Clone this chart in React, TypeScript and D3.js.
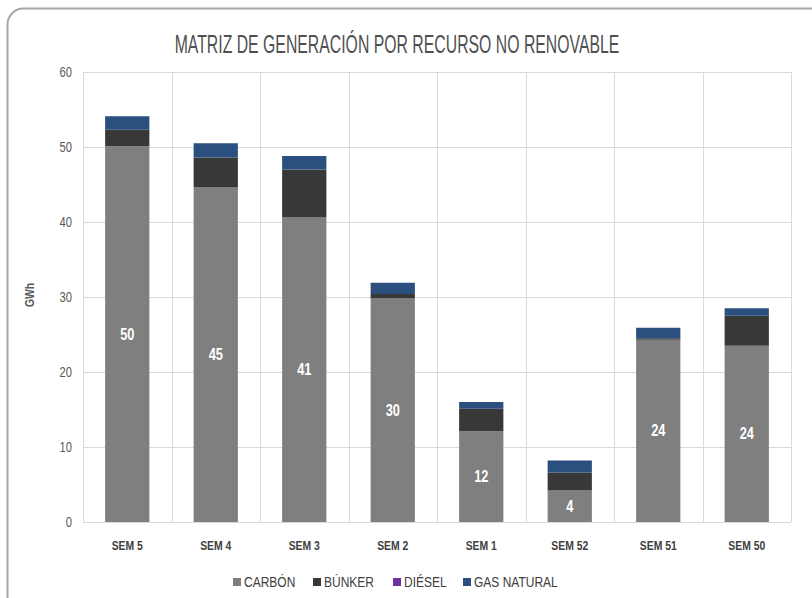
import React from 'react';
import * as d3 from 'd3';

const weeks = ['SEM 5', 'SEM 4', 'SEM 3', 'SEM 2', 'SEM 1', 'SEM 52', 'SEM 51', 'SEM 50'];
const carbon = [50.1, 44.6, 40.6, 29.8, 12.1, 4.2, 24.3, 23.5];
const bunker = [2.2, 4.0, 6.4, 0.6, 3.0, 2.4, 0.2, 4.0];
const diesel = [0, 0, 0, 0, 0, 0, 0, 0];
const gasNatural = [1.8, 1.9, 1.8, 1.5, 0.9, 1.6, 1.4, 1.0];
const seriesNames = ['CARBÓN', 'BÚNKER', 'DIÉSEL', 'GAS NATURAL'];
const seriesColors = ['#7f7f7f', '#383838', '#7030a0', '#2b4f7e'];
const yTicks = [0, 10, 20, 30, 40, 50, 60];

const W = 812;
const H = 598;
const FONT = "'Liberation Sans', Arial, sans-serif";
const NARROW = 0.8; // fake the condensed face

const App: React.FC = () => {
  const svgRef = React.useRef<SVGSVGElement>(null);

  React.useEffect(() => {
    if (!svgRef.current) return;
    const svg = d3.select(svgRef.current);
    svg.selectAll('*').remove();

    const left = 83, right = 791, top = 72, bottom = 522;

    // frame
    svg.append('rect')
      .attr('x', 7.5).attr('y', 8.5)
      .attr('width', 840).attr('height', 620)
      .attr('rx', 16)
      .attr('fill', '#fff')
      .attr('stroke', '#a6a6a6')
      .attr('stroke-width', 2);

    const rows = weeks.map((w, i) => ({
      week: w,
      carbon: carbon[i],
      bunker: bunker[i],
      diesel: diesel[i],
      gas: gasNatural[i],
    }));
    const keys = ['carbon', 'bunker', 'diesel', 'gas'];

    const x = d3.scaleBand<string>().domain(weeks).range([left, right])
      .paddingInner(0.5).paddingOuter(0.25);
    const xGrid = d3.scaleBand<string>().domain(weeks).range([left, right]).padding(0);
    const y = d3.scaleLinear().domain([0, 60]).range([bottom, top]);

    // gridlines
    const grid = svg.append('g').attr('stroke', '#d9d9d9').attr('stroke-width', 1);
    yTicks.forEach(t => {
      grid.append('line')
        .attr('x1', left).attr('x2', right)
        .attr('y1', Math.round(y(t)) + 0.5).attr('y2', Math.round(y(t)) + 0.5);
    });
    [...weeks.map(w => xGrid(w) as number), right].forEach(v => {
      grid.append('line')
        .attr('x1', Math.round(v) + 0.5).attr('x2', Math.round(v) + 0.5)
        .attr('y1', top).attr('y2', bottom);
    });

    // y tick labels
    svg.append('g').selectAll('text').data(yTicks).enter().append('text')
      .attr('transform', d => `translate(72,${y(d)}) scale(${NARROW},1)`)
      .attr('dy', '0.35em')
      .attr('text-anchor', 'end')
      .attr('font-family', FONT)
      .attr('font-size', 14)
      .attr('fill', '#595959')
      .text(d => d);

    svg.append('text')
      .attr('transform', `translate(34,295) rotate(-90) scale(${NARROW},1)`)
      .attr('text-anchor', 'middle')
      .attr('font-family', FONT)
      .attr('font-size', 13)
      .attr('font-weight', 'bold')
      .attr('fill', '#595959')
      .text('GWh');

    // stacked bars
    const stack = d3.stack<any>().keys(keys);
    const layers = stack(rows);
    layers.forEach((layer, li) => {
      svg.append('g').attr('fill', seriesColors[li])
        .selectAll('rect').data(layer).enter().append('rect')
        .attr('x', (d: any) => x(d.data.week) as number)
        .attr('y', d => y(d[1]))
        .attr('width', x.bandwidth())
        .attr('height', d => y(d[0]) - y(d[1]));
    });

    // data labels for carbón
    svg.append('g').selectAll('text').data(rows).enter().append('text')
      .attr('transform', d =>
        `translate(${(x(d.week) as number) + x.bandwidth() / 2},${y(d.carbon / 2)}) scale(${NARROW},1)`)
      .attr('dy', '0.35em')
      .attr('text-anchor', 'middle')
      .attr('font-family', FONT)
      .attr('font-size', 16)
      .attr('font-weight', 'bold')
      .attr('fill', '#ffffff')
      .text(d => Math.round(d.carbon));

    // x labels
    svg.append('g').selectAll('text').data(weeks).enter().append('text')
      .attr('transform', d =>
        `translate(${(x(d) as number) + x.bandwidth() / 2},545) scale(${NARROW},1)`)
      .attr('dy', '0.35em')
      .attr('text-anchor', 'middle')
      .attr('font-family', FONT)
      .attr('font-size', 13)
      .attr('font-weight', 'bold')
      .attr('fill', '#404040')
      .text(d => d);

    // title, squeezed to the reference width
    const title = svg.append('text')
      .attr('dy', '0.35em')
      .attr('text-anchor', 'middle')
      .attr('font-family', FONT)
      .attr('font-size', 25)
      .attr('fill', '#505050')
      .text('MATRIZ DE GENERACIÓN POR RECURSO NO RENOVABLE');
    const natural = (title.node() as SVGTextElement).getComputedTextLength() || 600;
    title.attr('transform', `translate(397,44) scale(${445 / natural},1)`);

    // legend
    const legendX = [233, 313, 393, 463];
    const legend = svg.append('g').selectAll('g').data(seriesNames).enter().append('g')
      .attr('transform', (d, i) => `translate(${legendX[i]},582)`);
    legend.append('rect')
      .attr('x', 0).attr('y', -4)
      .attr('width', 8).attr('height', 8)
      .attr('fill', (d, i) => seriesColors[i]);
    legend.append('text')
      .attr('transform', `translate(11,0) scale(${NARROW},1)`)
      .attr('dy', '0.35em')
      .attr('font-family', FONT)
      .attr('font-size', 15)
      .attr('fill', '#404040')
      .text(d => d);
  }, []);

  return (
    <svg
      ref={svgRef}
      width={W}
      height={H}
      style={{ position: 'absolute', left: 0, top: 0, background: '#fff' }}
    />
  );
};

export default App;
